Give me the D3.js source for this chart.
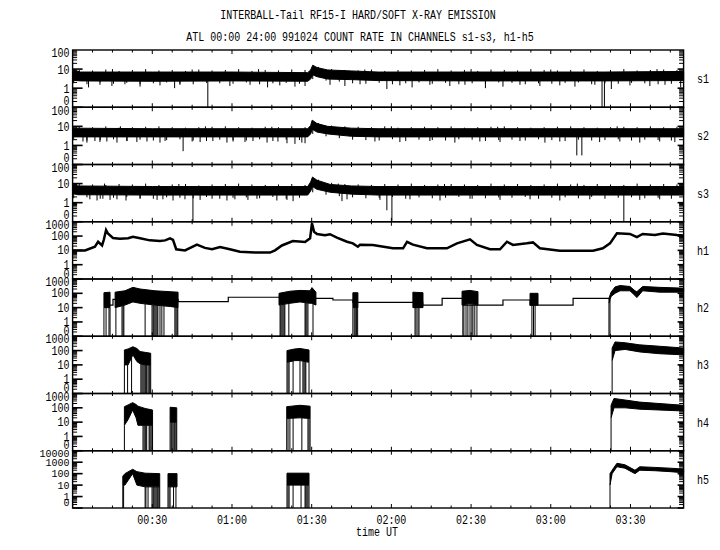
<!DOCTYPE html>
<html><head><meta charset="utf-8">
<script src="https://cdn.jsdelivr.net/npm/d3@7"></script>
<style>
body{margin:0;background:#fff;}
svg{display:block;background:#fff;}
text{font-family:"Liberation Mono","DejaVu Sans Mono",monospace;font-size:10px;fill:#000;}
</style></head><body>
<svg id="c" width="720" height="550"></svg>
<script>
// ---------- text ----------
const titleLines = ["INTERBALL-Tail RF15-I HARD/SOFT X-RAY EMISSION",
                    "ATL 00:00 24:00 991024  COUNT RATE IN CHANNELS s1-s3, h1-h5"];
const xAxisTitle = "time UT";
const panelNames = ["s1","s2","s3","h1","h2","h3","h4","h5"];
const panelTopDecade = [2,2,2,3,3,3,3,4];      // top of log axis = 10^n, bottom = "0"
const xTickMinutes = [30,60,90,120,150,180,210];
const xTickLabels = ["00:30","01:00","01:30","02:00","02:30","03:00","03:30"];
const timeDomain = [0,230];                       // minutes after 00:00 UT

// ---------- soft channels: band [t, lo, hi] and hairs [t, value] ----------
const s1Band = [[0,2.6,9],[3,2.4,7],[30,2.3,7],[60,2.4,7],[88.5,2.3,6.5],[89.6,3,9],[90.4,5,16],[92,4,12],[96,3,9],[105,2.8,8],[115,2.5,7],[150,2.4,7],[200,2.4,7],[230,2.5,7.5]];
const s1Hairs = [[6,1.1],[10.3,1.5],[14.8,1.3],[19.7,1.6],[25.4,1.2],[32.9,1.4],[38.4,1.0],[40.4,1.5],[50.9,0],[59.2,1.3],[66.8,1.5],[73.4,1.1],[78,1.4],[83.7,1.2],[87.5,1.3],[96.9,1.5],[102.5,1.3],[108.2,1.6],[118.3,0.9],[123.2,1.4],[127.8,1.1],[134.5,1.5],[142,1.3],[147.7,1.5],[155.4,1.0],[162,1.2],[168.4,1.5],[175.9,1.3],[183.4,1.4],[189.1,1.2],[196.6,1.5],[199.3,0],[200.2,0],[202.8,0.9],[209.8,1.4],[217.3,1.3],[223,1.5],[228.9,1.1],
  [15,10],[45,9.5],[70,10],[110,9.5],[150,10],[180,9.5],[220,10]];
const s2Band = [[0,2.8,8],[30,2.8,7.5],[60,2.8,7.5],[88.5,2.8,7.5],[89.6,4,11],[90.2,7,21],[92,5,14],[96,4,10],[105,3,8],[115,2.8,7.5],[200,2.8,7.5],[230,2.8,7.5]];
const s2Hairs = [[3.9,1.6],[5.4,1.4],[8.4,1.7],[10.3,1.5],[12.9,1.6],[16.7,1.4],[20.5,1.7],[24.2,1.5],[28,1.6],[32.9,1.4],[34.8,1.7],[41.6,0.5],[45,1.6],[48,1.5],[52.8,1.7],[58.1,1.4],[60.4,1.6],[64.9,1.5],[67.9,1.7],[73.2,1.4],[77.3,1.6],[80.7,1.3],[83.7,1.2],[86.3,1.4],[87.5,1.3],[113.8,1.6],[123.2,1.5],[134.5,1.7],[143.9,1.4],[153.3,1.6],[160.9,1.5],[168.4,1.7],[177.8,1.4],[183.4,1.6],[189.8,0.3],[191.7,0.3],[198.4,1.5],[206,1.6],[213.5,1.4],[221,1.6],[226.7,1.5],
  [18,10],[50,10],[75,9.5],[120,10],[160,9.5],[205,10]];
const s3Band = [[0,3,10],[2,2.6,7.5],[30,2.5,7],[60,2.5,7],[88.5,2.5,7],[89.6,4,12],[90.3,7,22],[92,5,15],[97,3.5,9],[105,2.8,7.5],[115,2.5,7],[200,2.5,7],[230,2.5,7]];
const s3Hairs = [[6.5,1.5],[9.2,1.3],[11.4,1.6],[14.1,1.4],[16.7,1.5],[20.1,1.3],[25.4,1.6],[31.8,1.4],[34,1.5],[37.8,1.3],[42.3,1.5],[45.3,0],[48,1.4],[52.5,1.6],[58.1,1.3],[61.1,1.5],[66,1.4],[69.4,1.6],[76.9,1.3],[80.7,1.4],[83,1.2],[101.4,1.2],[103.3,1.5],[115.7,1.4],[118.3,0.4],[120.2,0],[127,1.5],[138.3,1.3],[149.6,1.6],[160.9,1.4],[172.2,1.5],[183.4,1.3],[194.7,1.5],[207.5,0],[213.5,1.4],[221,1.5],
  [12,10],[40,9.5],[100,10],[140,9.5],[190,10]];
// short edge hairs, read every 5 min (up: at 2.5+5k min, down: at 5k min)
const s1Up   = [9,8.5,9.5,8,9,10,8.5,9,8,9.5,8.5,9,10,8,9,8.5,9.5,9,13,10,9,8.5,9.5,8,9,8.5,9,10,8.5,9,8,9.5,9,8.5,10,9,8.5,9,9.5,8,9,10,8.5,9,9.5,9];
const s1Down = [1.8,1.6,2,1.7,1.9,1.6,1.8,2,1.7,1.6,1.9,1.8,1.7,2,1.6,1.8,1.9,1.7,3,2.5,2.2,1.8,1.7,1.9,1.6,1.8,2,1.7,1.9,1.6,1.8,1.7,2,1.9,1.6,1.8,1.7,1.9,2,1.6,1.8,1.7,1.9,1.8,1.6,1.7];
const s2Up   = [9.5,9,10,8.5,9,9.5,10,9,8.5,9,9.5,10,9,8.5,9.5,9,10,9,15,11,10,9.5,9,10,8.5,9,9.5,9,10,8.5,9,9.5,10,9,8.5,9,9.5,10,9,8.5,9,9.5,9,10,9,9.5];
const s2Down = [2,1.8,1.9,2.1,1.7,2,1.8,1.9,2.1,1.8,1.7,2,1.9,1.8,2.1,1.7,2,1.9,4,3,2.4,2,1.9,1.8,2.1,1.7,2,1.9,1.8,2.1,2,1.7,1.9,2,1.8,2.1,1.9,1.7,2,1.8,1.9,2.1,1.8,2,1.9,1.8];
const s3Up   = [10,9,8.5,9.5,9,10,8.5,9,9.5,8,9,9.5,10,9,8.5,9,9.5,8.5,16,11,9.5,9,8.5,9.5,9,10,8.5,9,9.5,9,8.5,10,9,9.5,8.5,9,10,9,8.5,9.5,9,8.5,10,9,9.5,9];
const s3Down = [1.7,1.9,1.6,1.8,2,1.7,1.6,1.9,1.8,1.7,2,1.6,1.8,1.9,1.7,2,1.6,1.8,3.5,2.6,2.2,1.9,1.7,1.8,2,1.6,1.9,1.7,1.8,2,1.6,1.7,1.9,1.8,2,1.6,1.8,1.9,1.7,2,1.6,1.8,1.9,1.7,1.8,1.6];

// ---------- h1: smooth count-rate curve ----------
const h1Times  = [0,4.7,8.4,9.6,11.1,11.8,12.6,13.3,15.2,17.8,20.9,22.7,25.4,29.1,32.9,34.8,36.7,37.8,39,42.3,46.8,49.8,52.5,55.5,59.2,63,68.6,74.3,76.2,78.8,82.9,87.5,89.4,90.1,90.9,92,95,96.9,99.5,103.3,105.5,107.4,108.2,113,120.6,124.4,125.9,128.1,133.4,140.9,144.7,149.6,152.2,157.1,160.9,163.5,165.8,171,173.3,175.9,183.4,195.9,199.6,202.3,204.9,209.8,212.4,214.6,219.2,222.2,227.5,230];
const h1Values = [10,10,18,40,22,60,265,150,73,65,70,90,70,50,45,50,70,55,12,10,25,15,12,17,12,8,7,7,10,22,45,38,70,780,200,140,115,135,78,40,31,18,25,24,14,14,40,25,14,14,31,59,24,12,12,40,24,31,36,14,9.5,9.5,14,31,155,140,85,140,117,150,117,110];

// ---------- h2: step baseline + bursts ----------
const h2StepTimes  = [14.1,15.2,39.7,58.6,90.1,98,105.5,131.8,139.1,147,162,172.2,188.4,202.3];
const h2StepValues = [15,38,26,53,45,34,23.5,15,45,15,34,15,45,45];
const h2Bursts = [
  [[11.8,10,110],[14.1,10,120]],
  [[16,10,120],[19.7,15,150],[22.7,25,260],[25.4,20,200],[31,15,150],[36.7,12,130],[39.7,10,120]],
  [[77.7,15,100],[81.8,20,140],[85.6,25,160],[89.4,20,150],[90.1,20,250],[91.6,15,120]],
  [[105.5,10,110],[107.4,10,110]],
  [[128.1,10,120],[131.9,10,110]],
  [[146.6,15,140],[149.6,20,160],[152.6,15,130]],
  [[172.2,15,100],[175.2,15,100]],
  [[201.9,20,45],[202.7,60,120],[204.2,100,280],[206.1,150,350],[209.8,150,300],[211.7,70,150],[212.4,50,130],[214.6,150,300],[221,120,260],[230,120,230]]];
const h2Drops = [11.8,12.6,13.7,14.1,16.3,18.6,19,19.3,27.3,29.9,30.3,30.6,31,31.4,31.8,32.1,32.9,33.6,34.4,38.5,38.9,39.3,39.6,78.1,78.4,78.8,79.2,79.6,79.9,81.4,87.5,87.8,88.2,88.6,90.5,105.5,106,106.4,106.9,107.3,128.9,129.3,130,130.4,146.9,147.3,148.1,148.8,149.6,150.3,150.7,151.4,152.2,172.9,173.5,174.1,201.9,202.3];

// ---------- h3 ----------
const h3Bursts = [
  [[19.5,10,110],[20.9,10,130],[22.7,50,185],[24.2,17,140],[25.4,12,85],[27.3,10,75],[29.4,10,65]],
  [[80.7,15,100],[83.7,20,130],[85.6,20,140],[89,15,110]],
  [[203.1,20,150],[204.2,100,400],[208,120,350],[213.5,80,250],[221,60,200],[230,50,150]]];
const h3Drops = [19.5,20.7,22.2,25.7,26.1,26.5,26.9,27.3,27.6,27.9,28.4,28.8,29.1,29.4,80.7,81.1,81.5,83,85.6,86.7,87.1,87.5,87.8,89,203.1];

// ---------- h4 ----------
const h4Bursts = [
  [[19.5,6,120],[20.9,15,160],[22.6,70,230],[23.9,20,170],[24.6,6,130],[27.3,6,90],[30.1,6,70]],
  [[36.7,10,110],[39.2,10,100]],
  [[80.6,18,120],[85.6,20,150],[89.4,18,130]],
  [[202.7,20,150],[203.8,100,450],[208,100,350],[213.5,80,250],[230,60,150]]];
const h4Drops = [19.5,26.5,26.9,27.3,27.6,27.9,28.8,29.1,29.5,29.9,30.1,36.7,37.1,37.4,37.8,38.2,38.5,38.9,39.2,80.6,81.1,81.8,83,86.3,88.6,89,89.4,202.7];

// ---------- h5 ----------
const h5Bursts = [
  [[18.9,10,60],[19.7,10,100],[22.6,100,240],[24.2,10,150],[27.3,7,110],[32.8,7,100]],
  [[35.9,7,100],[39.3,7,100]],
  [[80.7,10,110],[89,10,110]],
  [[202.3,10,100],[203.1,100,200],[204.9,400,800],[207.9,300,600],[211.7,100,200],[213.5,200,400],[219.2,180,350],[224.9,150,300],[230,120,250]]];
const h5Drops = [18.9,19.2,27.3,27.6,28.4,29.9,30.3,30.6,31,31.4,31.8,32.1,32.5,32.8,35.9,36.3,36.7,38,38.9,80.7,81.1,81.5,83,86,87.5,87.8,88.2,88.6,89,202.3];

// ---------- layout ----------
const X0 = 72.6, X1 = 683.6, TOP = 50, PH = 57.25;
const svg = d3.select("#c");
const x = d3.scaleLinear().domain(timeDomain).range([X0, X1]);
const yScales = panelNames.map((n,i) => {
  const top = TOP + i*PH;
  return d3.scaleLog().domain([0.1, Math.pow(10, panelTopDecade[i])]).range([top+PH, top]).clamp(true);
});
const fix = v => (v <= 0 ? 0.1 : v);

function bandAt(band, t, k) {
  if (t <= band[0][0]) return band[0][k];
  for (let j=1;j<band.length;j++){
    if (t <= band[j][0]) {
      const a = band[j-1], b = band[j];
      const f = (t-a[0])/(b[0]-a[0] || 1);
      return Math.exp(Math.log(a[k])*(1-f)+Math.log(b[k])*f);
    }
  }
  return band[band.length-1][k];
}

function label(g, txt, tx, ty, anchor, sy) {
  const s = sy || 1.3;
  g.append("text").attr("transform", `translate(${tx},${ty}) scale(1,${s})`)
    .attr("y", 3.4).attr("text-anchor", anchor).text(txt);
}

const dataG = svg.append("g");
function drawBand(i, band) {
  const y = yScales[i];
  dataG.append("path").datum(band)
    .attr("d", d3.area().x(d=>x(d[0])).y0(d=>y(fix(d[1]))).y1(d=>y(fix(d[2]))))
    .attr("fill","#000").attr("stroke","#000").attr("stroke-width",1);
}
function drawHairs(i, band, hairs) {
  const y = yScales[i];
  dataG.selectAll(null).data(hairs).enter().append("line")
    .attr("x1", d=>x(d[0])).attr("x2", d=>x(d[0]))
    .attr("y1", d=>y(Math.sqrt(bandAt(band,d[0],1)*bandAt(band,d[0],2))))
    .attr("y2", d=>y(fix(d[1])))
    .attr("stroke","#000").attr("stroke-width",1);
}
function drawBursts(i, bursts, drops) {
  const y = yScales[i];
  bursts.forEach(b => drawBand(i, b));
  drops.forEach(t => {
    const b = bursts.find(bb => t >= bb[0][0]-0.01 && t <= bb[bb.length-1][0]+0.01);
    if (!b) return;
    dataG.append("line").attr("x1", x(t)).attr("x2", x(t))
      .attr("y1", y(0.1)).attr("y2", y(bandAt(b,t,1)))
      .attr("stroke","#000").attr("stroke-width",1);
  });
}

// soft channels
[[s1Band,s1Hairs,s1Up,s1Down],[s2Band,s2Hairs,s2Up,s2Down],[s3Band,s3Hairs,s3Up,s3Down]].forEach((p,i) => {
  drawBand(i, p[0]);
  drawHairs(i, p[0], p[1]);
  drawHairs(i, p[0], p[2].map((v,k)=>[2.5+5*k, v]));
  drawHairs(i, p[0], p[3].map((v,k)=>[5*k+0.4, v]));
});
// h1
dataG.append("path").datum(h1Times.map((t,j)=>[t,h1Values[j]]))
  .attr("d", d3.line().x(d=>x(d[0])).y(d=>yScales[3](d[1])))
  .attr("fill","none").attr("stroke","#000").attr("stroke-width",2.5);
// h2
dataG.append("path").datum(h2StepTimes.map((t,j)=>[t,h2StepValues[j]]))
  .attr("d", d3.line().curve(d3.curveStepAfter).x(d=>x(d[0])).y(d=>yScales[4](d[1])))
  .attr("fill","none").attr("stroke","#000").attr("stroke-width",1.2);
drawBursts(4, h2Bursts, h2Drops);
drawBursts(5, h3Bursts, h3Drops);
drawBursts(6, h4Bursts, h4Drops);
drawBursts(7, h5Bursts, h5Drops);

// ---------- frames, ticks, labels ----------
const axG = svg.append("g").attr("stroke","#000").attr("fill","none");
const minorT = d3.range(0, timeDomain[1]+0.01, 7.5);
panelNames.forEach((name,i) => {
  const y = yScales[i];
  const top = TOP + i*PH, bot = top + PH;
  axG.append("rect").attr("x",X0).attr("y",top).attr("width",X1-X0).attr("height",PH).attr("stroke-width",1.4);
  minorT.forEach(t => {
    const L = (t % 30 === 0) ? 4 : 2.5;
    axG.append("line").attr("x1",x(t)).attr("x2",x(t)).attr("y1",top).attr("y2",top+L);
    axG.append("line").attr("x1",x(t)).attr("x2",x(t)).attr("y1",bot).attr("y2",bot-L);
  });
  const nd = panelTopDecade[i];
  for (let k=-1;k<nd;k++){
    for (let m=1;m<=9;m++){
      const v = m*Math.pow(10,k);
      const yy = y(v);
      const major = m===1;
      axG.append("line").attr("x1",X0).attr("x2",X0+(major?10:4.5)).attr("y1",yy).attr("y2",yy).attr("stroke-width",major?1.6:1);
      axG.append("line").attr("x1",X1).attr("x2",X1-(major?6:4.5)).attr("y1",yy).attr("y2",yy).attr("stroke-width",major?1.6:1);
    }
  }
  const lg = svg.append("g");
  const sy = nd === 4 ? 1.1 : (nd === 3 ? 1.2 : 1.3);
  for (let k=0;k<=nd;k++){
    const v = Math.pow(10,k);
    let cy = y(v);
    if (k===nd) cy += 3;
    label(lg, String(v), 69.5, cy, "end", sy);
  }
  label(lg, "0", 69.5, bot - (nd === 2 ? 7 : 5.5), "end", sy);
  label(lg, name, 697, (top+bot)/2, "start");
});

const tg = svg.append("g");
xTickMinutes.forEach((t,j) => label(tg, xTickLabels[j], x(t), 520, "middle"));
label(tg, xAxisTitle, 377, 532, "middle");
label(tg, titleLines[0], 358, 15, "middle");
label(tg, titleLines[1], 360, 37, "middle");
</script>
</body></html>
